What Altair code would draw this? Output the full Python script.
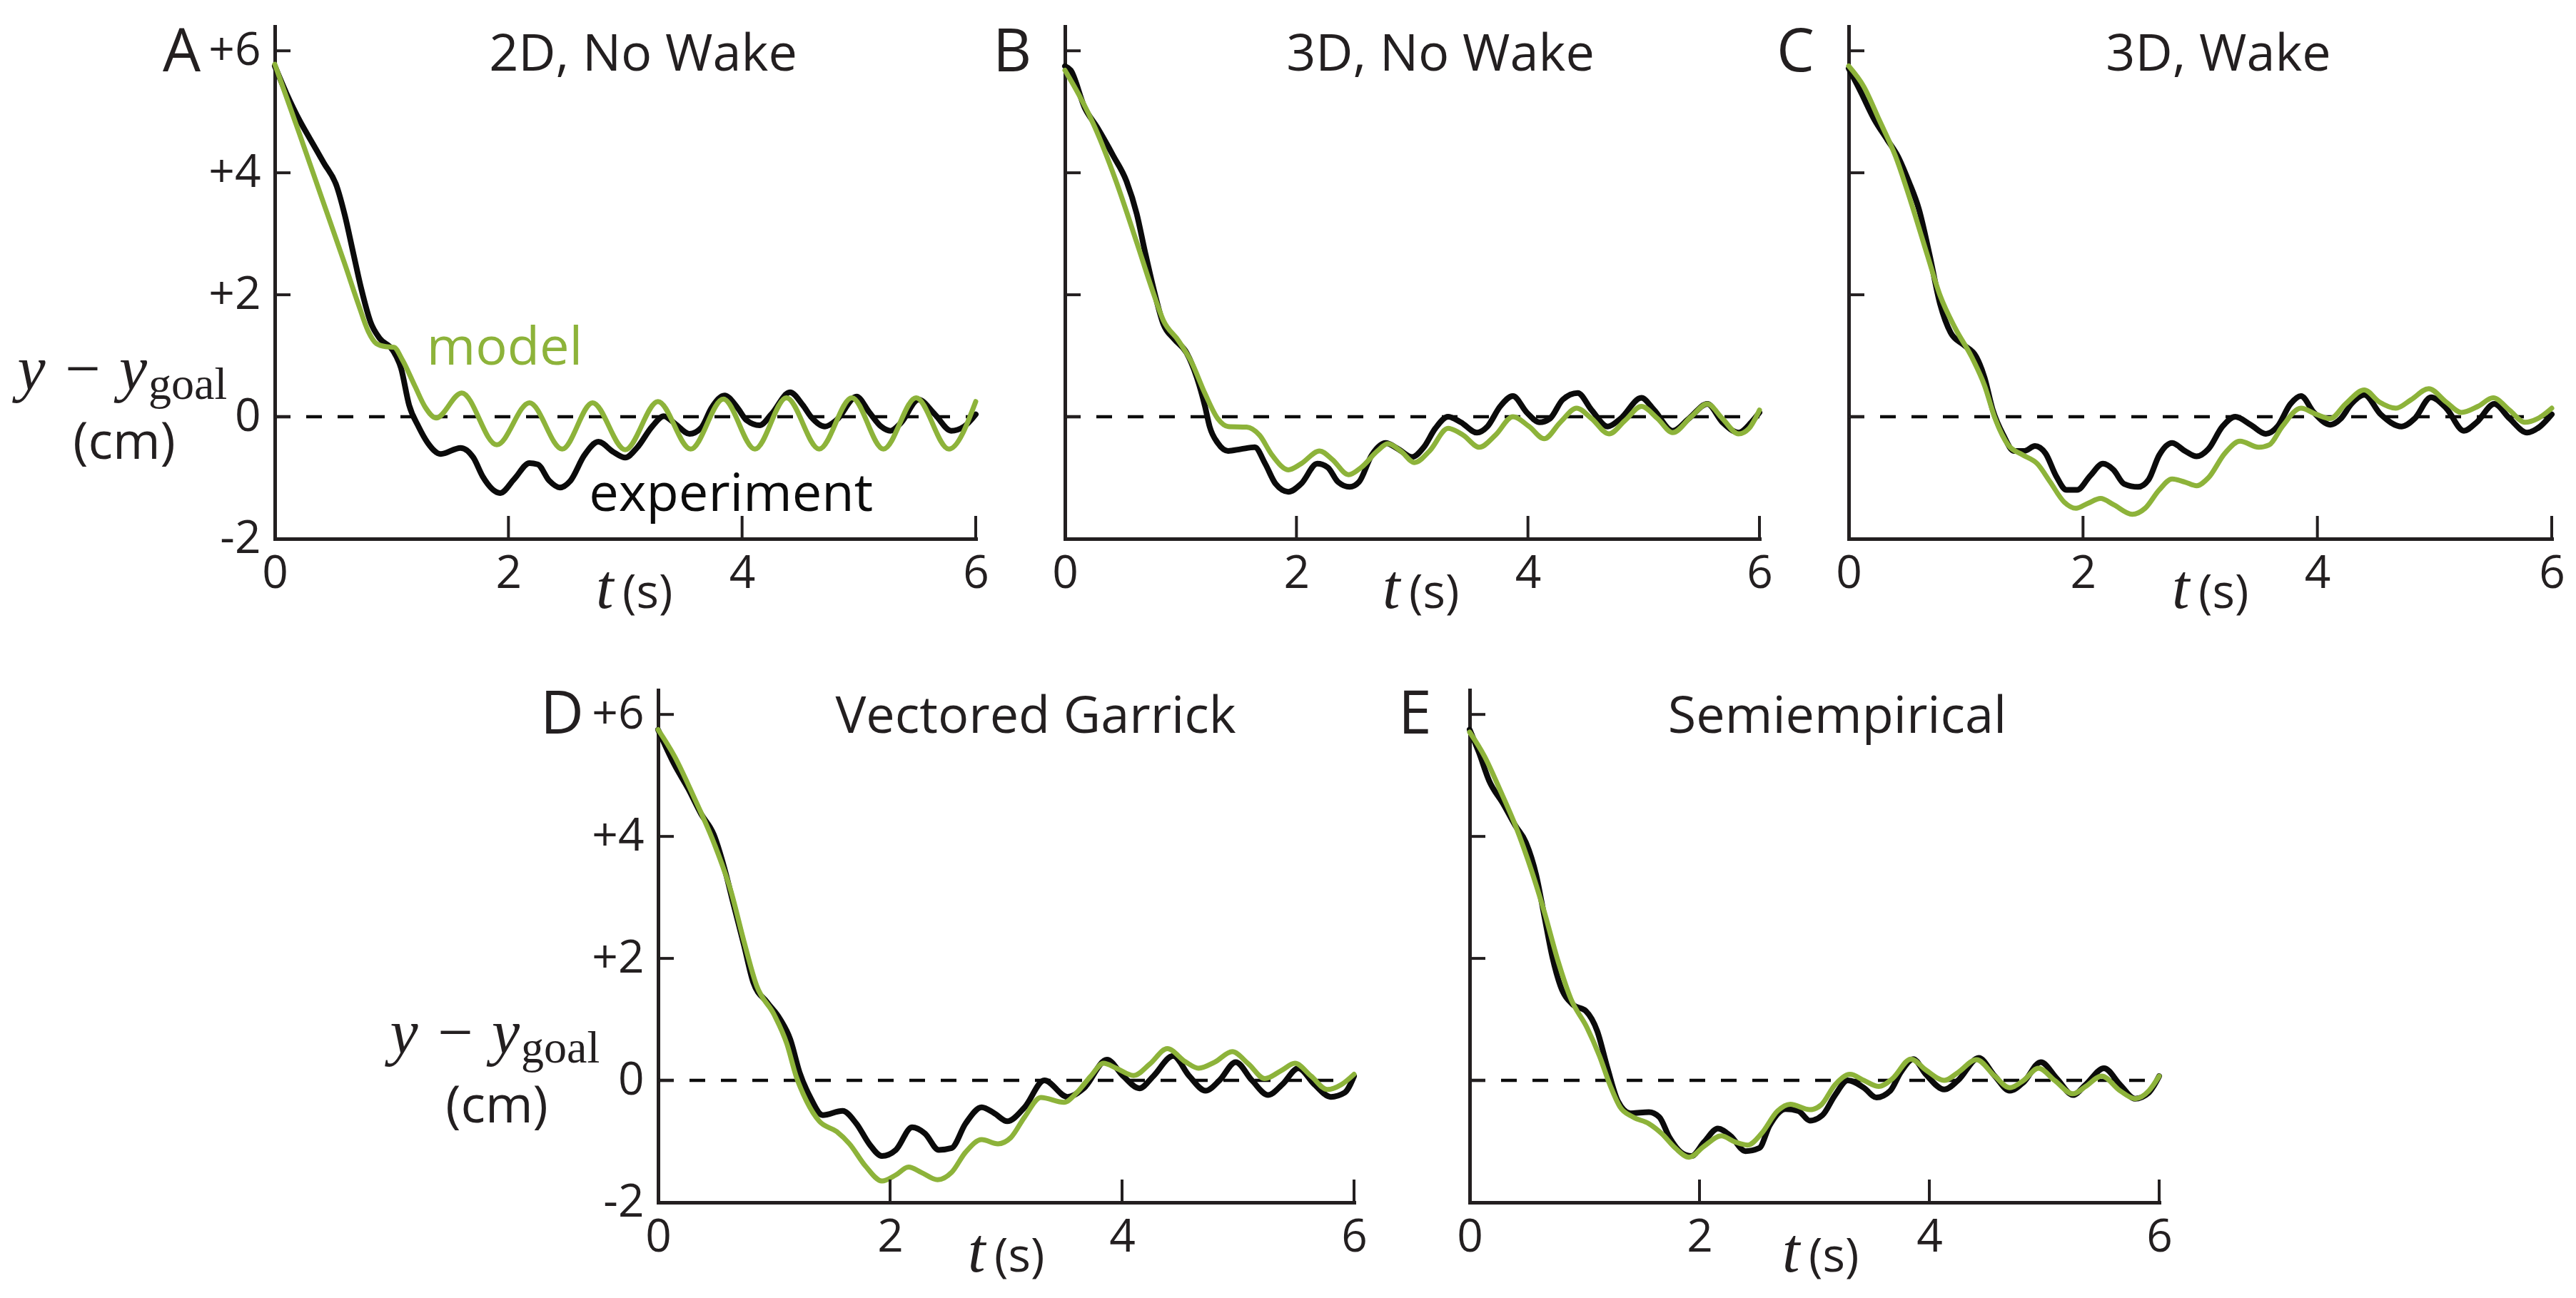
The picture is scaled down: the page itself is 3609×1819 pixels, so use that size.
import altair as alt
import pandas as pd

INK = "#231f20"
BLACK = "#0b0b0b"
GREEN = "#8db33a"
SANS = "Open Sans"
SERIF = "Liberation Serif"

X_DOMAIN = [0, 6]
Y_DOMAIN = [-2, 6.4]
X_TICKS = [0, 2, 4, 6]
Y_TICKS = [-2, 0, 2, 4, 6]

LETTERS = ["A", "B", "C", "D", "E"]
TITLES = ["2D, No Wake", "3D, No Wake", "3D, Wake", "Vectored Garrick", "Semiempirical"]
Y_TITLE_MAIN = "y \u2212 y"
Y_TITLE_SUB = "goal"
Y_TITLE_UNIT = "(cm)"
X_TITLE_VAR = "t"
X_TITLE_UNIT = "(s)"

LABEL_TEXT = ["model", "experiment"]
LABEL_T = [1.30, 2.69]
LABEL_Y = [0.85, -1.54]

# ---------------- Panel A : 2D, No Wake ----------------
A_EXP_T = [0, 0.1, 0.22, 0.30, 0.42, 0.53, 0.6, 0.67, 0.74, 0.82, 0.9, 1.01, 1.08, 1.15, 1.23, 1.31,
           1.42, 1.59, 1.70, 1.78, 1.93, 2.05, 2.18, 2.25, 2.35, 2.44, 2.53, 2.65, 2.77, 2.90, 3.0,
           3.1, 3.23, 3.33, 3.43, 3.55, 3.65, 3.74, 3.85, 3.96, 4.04, 4.15, 4.25, 4.41, 4.52, 4.59,
           4.71, 4.81, 4.98, 5.09, 5.19, 5.27, 5.36, 5.51, 5.65, 5.79, 5.9, 6.0]
A_EXP_Y = [5.75, 5.3, 4.83, 4.56, 4.16, 3.78, 3.3, 2.7, 2.1, 1.55, 1.28, 1.09, 0.8, 0.19, -0.16, -0.43,
           -0.61, -0.51, -0.67, -0.98, -1.25, -1.02, -0.76, -0.78, -1.05, -1.16, -1.05, -0.63, -0.41,
           -0.58, -0.67, -0.51, -0.16, 0.01, -0.12, -0.28, -0.18, 0.15, 0.35, 0.15, -0.06, -0.14, 0.04,
           0.40, 0.19, 0.0, -0.16, -0.05, 0.33, 0.07, -0.16, -0.23, -0.1, 0.28, 0.04, -0.23, -0.16, 0.04]
A_MOD_T = [0, 0.2, 0.4, 0.6, 0.72, 0.8, 0.87, 0.95, 1.02, 1.09, 1.2, 1.29, 1.38, 1.6, 1.9, 2.18, 2.46,
           2.72, 3.0, 3.28, 3.56, 3.84, 4.11, 4.38, 4.66, 4.94, 5.21, 5.49, 5.77, 6.0]
A_MOD_Y = [5.78, 4.7, 3.6, 2.5, 1.82, 1.4, 1.2, 1.15, 1.14, 0.94, 0.5, 0.15, -0.02, 0.39, -0.46, 0.23,
           -0.53, 0.23, -0.54, 0.25, -0.53, 0.29, -0.53, 0.31, -0.53, 0.31, -0.53, 0.31, -0.53, 0.25]

# ---------------- Panel B : 3D, No Wake ----------------
B_EXP_T = [0, 0.05, 0.17, 0.28, 0.42, 0.53, 0.62, 0.69, 0.78, 0.85, 0.94, 1.05, 1.14, 1.21, 1.25, 1.32,
           1.41, 1.52, 1.64, 1.73, 1.82, 1.93, 2.04, 2.18, 2.27, 2.36, 2.46, 2.54, 2.65, 2.77, 2.88,
           3.0, 3.1, 3.2, 3.31, 3.42, 3.56, 3.65, 3.76, 3.87, 3.99, 4.1, 4.19, 4.3, 4.43, 4.55, 4.69,
           4.8, 4.98, 5.09, 5.25, 5.39, 5.55, 5.68, 5.82, 5.93, 6.0]
B_EXP_Y = [5.75, 5.68, 5.07, 4.74, 4.27, 3.87, 3.33, 2.72, 1.99, 1.52, 1.28, 1.05, 0.64, 0.17, -0.16,
           -0.43, -0.56, -0.53, -0.50, -0.77, -1.10, -1.23, -1.10, -0.77, -0.83, -1.07, -1.15, -1.07,
           -0.63, -0.43, -0.53, -0.66, -0.50, -0.19, 0.0, -0.09, -0.26, -0.16, 0.17, 0.34, 0.07, -0.09,
           -0.03, 0.28, 0.39, 0.11, -0.16, -0.03, 0.31, 0.11, -0.23, -0.03, 0.21, -0.09, -0.26, -0.09, 0.07]
B_MOD_T = [0, 0.12, 0.26, 0.44, 0.62, 0.76, 0.85, 0.98, 1.09, 1.21, 1.32, 1.41, 1.57, 1.68, 1.79, 1.93,
           2.04, 2.2, 2.31, 2.45, 2.56, 2.7, 2.79, 2.9, 3.02, 3.15, 3.31, 3.44, 3.58, 3.72, 3.87, 4.01,
           4.14, 4.28, 4.42, 4.55, 4.7, 4.84, 4.98, 5.12, 5.25, 5.41, 5.55, 5.68, 5.82, 5.91, 6.0]
B_MOD_Y = [5.68, 5.28, 4.74, 3.87, 2.86, 2.05, 1.58, 1.25, 0.91, 0.38, -0.03, -0.16, -0.17, -0.30, -0.63,
           -0.87, -0.77, -0.56, -0.70, -0.95, -0.83, -0.56, -0.44, -0.56, -0.75, -0.56, -0.19, -0.30,
           -0.50, -0.30, 0.0, -0.16, -0.36, -0.09, 0.14, -0.03, -0.28, -0.06, 0.17, -0.03, -0.26, 0.0,
           0.21, -0.03, -0.28, -0.19, 0.11]

# ---------------- Panel C : 3D, Wake ----------------
C_EXP_T = [0, 0.1, 0.22, 0.33, 0.42, 0.51, 0.6, 0.69, 0.78, 0.87, 0.98, 1.09, 1.16, 1.23, 1.32, 1.41,
           1.5, 1.59, 1.68, 1.77, 1.86, 1.95, 2.06, 2.17, 2.26, 2.35, 2.47, 2.56, 2.65, 2.76, 2.87,
           2.97, 3.07, 3.19, 3.3, 3.43, 3.56, 3.66, 3.77, 3.86, 3.97, 4.11, 4.2, 4.29, 4.4, 4.54, 4.72,
           4.83, 4.97, 5.1, 5.25, 5.36, 5.51, 5.64, 5.79, 5.9, 6.0]
C_EXP_Y = [5.71, 5.34, 4.87, 4.54, 4.27, 3.87, 3.4, 2.66, 1.85, 1.38, 1.18, 0.98, 0.64, 0.11, -0.3,
           -0.56, -0.56, -0.48, -0.6, -0.97, -1.2, -1.2, -0.97, -0.77, -0.87, -1.1, -1.15, -1.03, -0.63,
           -0.43, -0.56, -0.65, -0.53, -0.16, 0.0, -0.13, -0.28, -0.16, 0.21, 0.34, 0.07, -0.13, -0.03,
           0.21, 0.36, 0.04, -0.16, -0.03, 0.32, 0.14, -0.23, -0.09, 0.21, -0.03, -0.26, -0.16, 0.04]
C_MOD_T = [0, 0.13, 0.26, 0.4, 0.53, 0.67, 0.78, 0.91, 1.05, 1.16, 1.25, 1.36, 1.48, 1.61, 1.72, 1.84,
           1.94, 2.04, 2.15, 2.26, 2.42, 2.53, 2.65, 2.76, 2.87, 2.97, 3.07, 3.21, 3.34, 3.5, 3.59, 3.7,
           3.86, 3.99, 4.11, 4.24, 4.4, 4.53, 4.67, 4.8, 4.95, 5.1, 5.23, 5.37, 5.5, 5.64, 5.77, 5.88, 6.0]
C_MOD_Y = [5.75, 5.41, 4.87, 4.27, 3.53, 2.66, 1.99, 1.45, 0.98, 0.51, -0.03, -0.46, -0.62, -0.77,
           -1.07, -1.40, -1.50, -1.42, -1.34, -1.44, -1.60, -1.50, -1.2, -1.02, -1.07, -1.13, -1.0,
           -0.6, -0.40, -0.5, -0.46, -0.16, 0.14, 0.04, -0.03, 0.21, 0.44, 0.24, 0.14, 0.28, 0.46,
           0.24, 0.07, 0.17, 0.31, 0.11, -0.09, -0.03, 0.14]

# ---------------- Panel D : Vectored Garrick ----------------
D_EXP_T = [0, 0.14, 0.26, 0.37, 0.48, 0.57, 0.65, 0.74, 0.82, 0.94, 1.05, 1.14, 1.22, 1.31, 1.42, 1.59,
           1.71, 1.82, 1.93, 2.05, 2.19, 2.3, 2.42, 2.53, 2.65, 2.79, 2.9, 3.01, 3.16, 3.33, 3.53, 3.67,
           3.87, 4.01, 4.15, 4.27, 4.44, 4.58, 4.72, 4.84, 4.98, 5.12, 5.26, 5.38, 5.52, 5.66, 5.8,
           5.92, 6.0]
D_EXP_Y = [5.75, 5.18, 4.78, 4.37, 4.03, 3.49, 2.89, 2.22, 1.61, 1.28, 1.01, 0.67, 0.13, -0.27, -0.57,
           -0.50, -0.71, -1.04, -1.24, -1.14, -0.77, -0.87, -1.14, -1.11, -0.71, -0.44, -0.54, -0.67,
           -0.44, 0.0, -0.27, -0.13, 0.34, 0.07, -0.13, 0.07, 0.40, 0.07, -0.17, 0.0, 0.30, 0.0, -0.24,
           -0.07, 0.20, -0.07, -0.27, -0.20, 0.07]
D_MOD_T = [0, 0.14, 0.31, 0.48, 0.63, 0.74, 0.85, 1.0, 1.11, 1.19, 1.28, 1.39, 1.54, 1.65, 1.79, 1.93,
           2.05, 2.16, 2.27, 2.41, 2.53, 2.65, 2.79, 2.93, 3.04, 3.16, 3.3, 3.5, 3.61, 3.73, 3.84, 3.95,
           4.1, 4.24, 4.39, 4.55, 4.66, 4.8, 4.95, 5.09, 5.23, 5.38, 5.49, 5.63, 5.77, 5.89, 6.0]
D_MOD_Y = [5.75, 5.32, 4.64, 3.9, 3.09, 2.28, 1.55, 1.08, 0.6, 0.07, -0.34, -0.67, -0.84, -1.04, -1.41,
           -1.65, -1.55, -1.42, -1.51, -1.63, -1.51, -1.18, -0.97, -1.04, -0.94, -0.60, -0.28, -0.36,
           -0.20, 0.07, 0.28, 0.20, 0.08, 0.27, 0.52, 0.30, 0.20, 0.30, 0.47, 0.27, 0.03, 0.17, 0.28,
           0.07, -0.15, -0.07, 0.10]

# ---------------- Panel E : Semiempirical ----------------
E_EXP_T = [0, 0.08, 0.17, 0.29, 0.4, 0.49, 0.58, 0.65, 0.72, 0.79, 0.9, 1.01, 1.11, 1.2, 1.29, 1.4, 1.56,
           1.65, 1.74, 1.84, 1.93, 2.04, 2.16, 2.27, 2.4, 2.52, 2.61, 2.75, 2.86, 2.96, 3.07, 3.18,
           3.29, 3.43, 3.54, 3.66, 3.75, 3.86, 3.97, 4.13, 4.25, 4.43, 4.57, 4.7, 4.82, 4.97, 5.11,
           5.25, 5.36, 5.52, 5.66, 5.79, 5.91, 6.0]
E_EXP_Y = [5.75, 5.38, 4.91, 4.54, 4.17, 3.9, 3.36, 2.69, 2.02, 1.55, 1.24, 1.14, 0.81, 0.20, -0.34,
           -0.54, -0.52, -0.6, -0.94, -1.18, -1.24, -1.01, -0.79, -0.91, -1.16, -1.11, -0.74, -0.47,
           -0.5, -0.66, -0.57, -0.24, 0.0, -0.12, -0.28, -0.17, 0.13, 0.35, 0.10, -0.15, 0.0, 0.37,
           0.07, -0.17, -0.03, 0.30, 0.03, -0.24, -0.07, 0.20, -0.07, -0.30, -0.20, 0.07]
E_MOD_T = [0, 0.13, 0.26, 0.4, 0.54, 0.65, 0.77, 0.88, 1.02, 1.13, 1.22, 1.31, 1.42, 1.56, 1.67, 1.79,
           1.91, 2.04, 2.19, 2.31, 2.42, 2.54, 2.68, 2.79, 2.96, 3.06, 3.18, 3.31, 3.43, 3.56, 3.68,
           3.84, 3.97, 4.13, 4.25, 4.41, 4.57, 4.7, 4.82, 4.95, 5.09, 5.25, 5.36, 5.5, 5.66, 5.79,
           5.91, 6.0]
E_MOD_Y = [5.71, 5.31, 4.78, 4.17, 3.43, 2.76, 1.95, 1.34, 0.87, 0.40, -0.07, -0.44, -0.6, -0.71, -0.87,
           -1.11, -1.26, -1.08, -0.91, -1.01, -1.06, -0.87, -0.50, -0.39, -0.48, -0.40, -0.07, 0.10,
           0.0, -0.10, 0.03, 0.35, 0.17, 0.0, 0.13, 0.34, 0.07, -0.12, 0.0, 0.20, 0.0, -0.22, -0.10,
           0.07, -0.17, -0.30, -0.17, 0.07]

H = 718
ROW2_SHIFT = 537      # horizontal offset of panel D relative to panel A
ROW2_SPACING = 162

# layout of each panel (pixels, relative to its plot area)
CFG = [
    dict(w=982, letter_x=-157, title_x=516, title_y=62, letter_y=63, ylabels=True, ytitle_dx=0,
         xt_x=450, anchors=[(-376, -28), (-376, 890)]),
    dict(w=973, letter_x=-101, title_x=526, title_y=62, letter_y=63, ylabels=False, xt_x=445,
         anchors=[]),
    dict(w=985, letter_x=-101, title_x=518, title_y=62, letter_y=63, ylabels=False, xt_x=453,
         anchors=[]),
    dict(w=975, letter_x=-165, title_x=529, title_y=60, letter_y=61, ylabels=True, ytitle_dx=-15,
         xt_x=434, anchors=[(-900, -32)]),
    dict(w=966, letter_x=-100, title_x=515, title_y=60, letter_y=61, ylabels=False, xt_x=438,
         anchors=[]),
]


def text_layer(s, x, y, font=SANS, size=64, color=INK, align="left", style="normal"):
    return alt.Chart(pd.DataFrame({"label": [s]})).mark_text(
        font=font, fontSize=size, color=color, align=align, baseline="alphabetic",
        fontStyle=style
    ).encode(text="label:N", x=alt.value(x), y=alt.value(y))


def anchor(x, y):
    return alt.Chart(pd.DataFrame({"a": [0]})).mark_rule(color="white", strokeWidth=1).encode(
        x=alt.value(x), x2=alt.value(x + 1), y=alt.value(y), y2=alt.value(y + 1))


def panel(i, exp_t, exp_y, mod_t, mod_y):
    c = CFG[i]
    W = c["w"]
    xs = alt.Scale(domain=X_DOMAIN, nice=False, zero=False)
    ys = alt.Scale(domain=Y_DOMAIN, nice=False, zero=False)
    common = dict(title=None, ticks=False, tickSize=0, grid=False, domainColor=INK,
                  domainWidth=5, domainCap="square")
    xaxis = alt.Axis(values=X_TICKS, labelFont=SANS, labelFontSize=64, labelColor=INK,
                     labelPadding=17, labelFlush=False, labelOverlap=False, labelBound=False,
                     **common)
    if c["ylabels"]:
        yaxis = alt.Axis(values=Y_TICKS, labelFont=SANS, labelFontSize=64, labelColor=INK,
                         labelPadding=20, labelFlush=False, labelOverlap=False, labelBound=False,
                         labelExpr="datum.value > 0 ? '+' + datum.value : (datum.value < 0 ? '-' + (-datum.value) : '0')",
                         **common)
    else:
        yaxis = alt.Axis(values=Y_TICKS, labels=False, **common)

    def X(f):
        return alt.X(f, scale=xs, axis=xaxis)

    def Y(f):
        return alt.Y(f, scale=ys, axis=yaxis)

    layers = []
    exp = alt.Chart(pd.DataFrame({"t": exp_t, "y": exp_y})).mark_line(
        color=BLACK, strokeWidth=8, interpolate="monotone", strokeCap="round", strokeJoin="round"
    ).encode(x=X("t:Q"), y=Y("y:Q"))
    layers.append(exp)

    zero = alt.Chart(pd.DataFrame({"y": [0]})).mark_rule(
        color=BLACK, strokeWidth=4.5, strokeDash=[22, 22]
    ).encode(y=Y("y:Q"), x=alt.value(0), x2=alt.value(W))
    layers.append(zero)

    mod = alt.Chart(pd.DataFrame({"t": mod_t, "y": mod_y})).mark_line(
        color=GREEN, strokeWidth=7, interpolate="monotone", strokeCap="round", strokeJoin="round"
    ).encode(x=X("t:Q"), y=Y("y:Q"))
    layers.append(mod)

    yt = alt.Chart(pd.DataFrame({"y": Y_TICKS})).mark_rule(color=INK, strokeWidth=4).encode(
        y=Y("y:Q"), x=alt.value(0), x2=alt.value(22))
    xt = alt.Chart(pd.DataFrame({"t": X_TICKS})).mark_rule(color=INK, strokeWidth=4).encode(
        x=X("t:Q"), y=alt.value(H), y2=alt.value(H - 32))
    layers += [yt, xt]

    layers.append(text_layer(LETTERS[i], c["letter_x"], c["letter_y"], size=84))
    layers.append(text_layer(TITLES[i], c["title_x"], c["title_y"], size=72, align="center"))

    # x-axis title  t(s)
    layers.append(text_layer(X_TITLE_VAR, c["xt_x"], H + 97, font=SERIF, size=88, style="italic"))
    layers.append(text_layer(X_TITLE_UNIT, c["xt_x"] + 37, H + 97, size=66))

    if c["ylabels"]:
        dx = c["ytitle_dx"]
        layers.append(text_layer(Y_TITLE_MAIN, -179 + dx, 509, font=SERIF, size=88,
                                 style="italic", align="right"))
        layers.append(text_layer(Y_TITLE_SUB, -177 + dx, 522, font=SERIF, size=64))
        layers.append(text_layer(Y_TITLE_UNIT, -211 + dx, 606, size=72, align="center"))

    if i == 0:
        for k, col in zip(range(2), [GREEN, BLACK]):
            lab = alt.Chart(pd.DataFrame({"label": [LABEL_TEXT[k]], "t": [LABEL_T[k]],
                                          "y": [LABEL_Y[k]]})).mark_text(
                font=SANS, fontSize=74, color=col, align="left", baseline="alphabetic"
            ).encode(text="label:N", x=X("t:Q"), y=Y("y:Q"))
            layers.append(lab)

    for (ax, ay) in c["anchors"]:
        layers.append(anchor(ax, ay))

    return alt.layer(*layers).properties(width=W, height=H)


pA = panel(0, A_EXP_T, A_EXP_Y, A_MOD_T, A_MOD_Y)
pB = panel(1, B_EXP_T, B_EXP_Y, B_MOD_T, B_MOD_Y)
pC = panel(2, C_EXP_T, C_EXP_Y, C_MOD_T, C_MOD_Y)
pD = panel(3, D_EXP_T, D_EXP_Y, D_MOD_T, D_MOD_Y)
pE = panel(4, E_EXP_T, E_EXP_Y, E_MOD_T, E_MOD_Y)

# empty spacer that pushes the second row to the right
spacer = alt.Chart(pd.DataFrame({"a": [0]})).mark_rule(color="white", strokeWidth=1).encode(
    x=alt.value(0), x2=alt.value(1), y=alt.value(0), y2=alt.value(1)
).properties(width=ROW2_SHIFT - ROW2_SPACING, height=H)

top = alt.hconcat(pA, pB, pC, spacing=125, bounds="flush")
bottom = alt.hconcat(spacer, pD, pE, spacing=ROW2_SPACING, bounds="flush")

chart = alt.concat(top, bottom, columns=1, spacing=5, padding=0,
                   background="white").configure_view(stroke=None)

chart.save("out.html", embed_options={"renderer": "svg", "actions": False})
